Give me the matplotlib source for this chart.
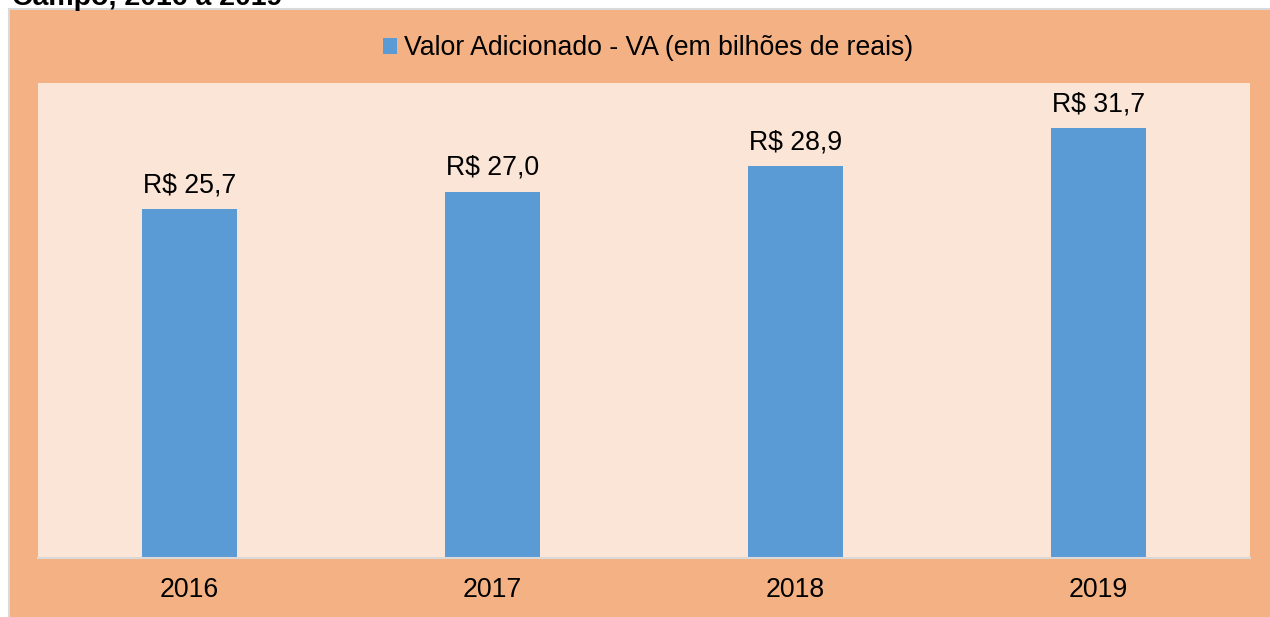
import matplotlib.pyplot as plt
from matplotlib.patches import Rectangle

anos = ['2016', '2017', '2018', '2019']
valores = [25.7, 27.0, 28.9, 31.7]
rotulos = ['R$ 25,7', 'R$ 27,0', 'R$ 28,9', 'R$ 31,7']
serie = 'Valor Adicionado - VA (em bilhões de reais)'
titulo = 'Campo, 2016 a 2019'

plt.rcParams['font.family'] = ['Liberation Sans', 'DejaVu Sans']

W, H = 1270, 617
fig = plt.figure(figsize=(W / 100, H / 100), dpi=100)
fig.patch.set_facecolor('white')

# fundo laranja do grafico
fundo = Rectangle((9 / W, -0.01), 1.0, 1 - 9 / H + 0.01, transform=fig.transFigure,
                  facecolor='#F4B183', edgecolor='#D9D9D9', linewidth=1.5, zorder=-1)
fig.patches.append(fundo)

# titulo cortado no topo (como na imagem original)
fig.text(12 / W, 1 - 5 / H, titulo, fontsize=20.5, fontweight='bold',
         ha='left', va='baseline')

ax = fig.add_axes([38 / W, 1 - 558 / H, (1250 - 38) / W, (558 - 83) / H])
ax.set_zorder(1)
ax.set_facecolor('#FBE5D6')

x = range(len(anos))
barras = ax.bar(x, valores, width=0.314, color='#5B9BD5', label=serie, zorder=2)

for xi, v, r in zip(x, valores, rotulos):
    ax.annotate(r, (xi, v), xytext=(0, 12), textcoords='offset points',
                ha='center', va='baseline', fontsize=19.2)

ax.set_xlim(-0.5, 3.5)
ax.set_ylim(0, 35)
ax.set_xticks(list(x))
ax.set_xticklabels(anos, fontsize=19.2)
ax.tick_params(axis='x', length=0, pad=14)
ax.set_yticks([])
for s in ['top', 'left', 'right']:
    ax.spines[s].set_visible(False)
ax.spines['bottom'].set_color('#D9D9D9')
ax.spines['bottom'].set_linewidth(1.5)

leg = fig.legend(loc='center', bbox_to_anchor=(648 / W, 1 - 48 / H), frameon=False,
                 fontsize=19.2, handlelength=0.55, handleheight=0.55, handletextpad=0.25)
leg.set_zorder(2)

fig.savefig('out.png', dpi=100, facecolor=fig.get_facecolor())
